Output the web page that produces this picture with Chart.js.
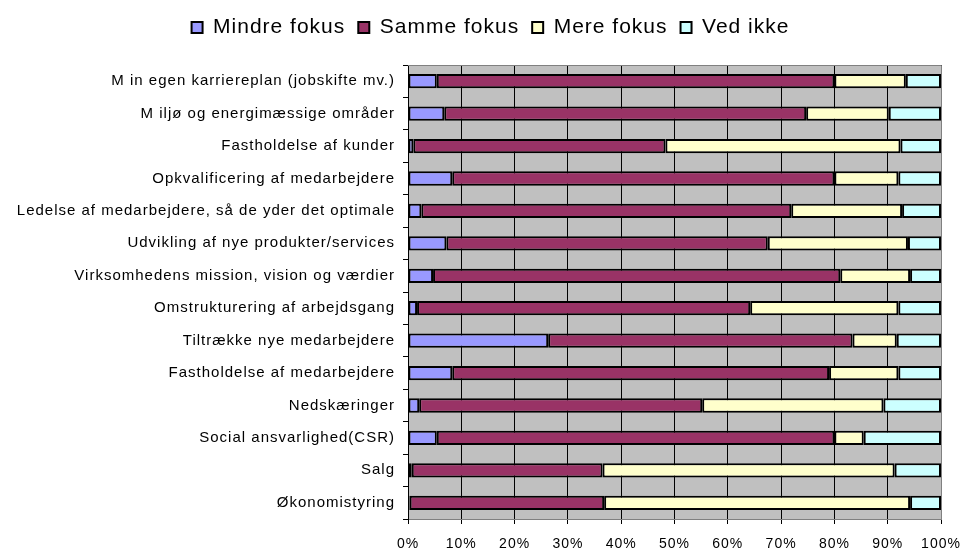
<!DOCTYPE html>
<html>
<head>
<meta charset="utf-8">
<script src="https://cdn.jsdelivr.net/npm/chart.js@4/dist/chart.umd.min.js"></script>
<style>
  html, body { margin: 0; padding: 0; background: #fff; }
  #wrap { width: 966px; height: 552px; }
</style>
</head>
<body>
<div id="wrap"><canvas id="focus_chart" width="966" height="552"></canvas></div>
<script>
var categories = [
  'M in egen karriereplan (jobskifte mv.)',
  'M iljø og energimæssige områder',
  'Fastholdelse af kunder',
  'Opkvalificering af medarbejdere',
  'Ledelse af medarbejdere, så de yder det optimale',
  'Udvikling af nye produkter/services',
  'Virksomhedens mission, vision og værdier',
  'Omstrukturering af arbejdsgang',
  'Tiltrække nye medarbejdere',
  'Fastholdelse af medarbejdere',
  'Nedskæringer',
  'Social ansvarlighed(CSR)',
  'Salg',
  'Økonomistyring'
];
var mindreFokus = [5.4, 6.8, 1.0, 8.3, 2.5, 7.2, 4.7, 1.7, 26.3, 8.3, 2.1, 5.4, 0.7, 0.3];
var sammeFokus  = [74.6, 67.9, 47.3, 71.7, 69.4, 60.3, 76.4, 62.5, 57.1, 70.7, 53.1, 74.6, 35.8, 36.5];
var mereFokus   = [13.4, 15.5, 44.1, 12.0, 20.8, 26.3, 13.1, 27.8, 8.3, 13.0, 34.0, 5.5, 54.8, 57.4];
var vedIkke     = [6.6, 9.8, 7.6, 8.0, 7.3, 6.2, 5.8, 8.0, 8.3, 8.0, 10.8, 14.5, 8.7, 5.8];
var xTicks = [0, 10, 20, 30, 40, 50, 60, 70, 80, 90, 100];

// the original renderer spaces letters a bit wider
function spaceLetters(chart) {
  chart.ctx.letterSpacing = '1px';
}

var plotBackground = {
  id: 'plotBackground',
  beforeInit: function(chart) {
    var fit = chart.legend.fit;
    chart.legend.fit = function() {
      fit.call(this);
      this.height += 17;
    };
  },
  beforeLayout: spaceLetters,
  afterLayout: function(chart) {
    // legend sits a little right of centre in the original
    chart.legend.left += 20;
    chart.legend.right += 20;
  },
  beforeDraw: function(chart) {
    spaceLetters(chart);
    var a = chart.chartArea, ctx = chart.ctx;
    ctx.save();
    ctx.fillStyle = '#c0c0c0';
    ctx.fillRect(a.left, a.top, a.right - a.left, a.bottom - a.top);
    ctx.restore();
  },
  afterDatasetsDraw: function(chart) {
    var a = chart.chartArea, ctx = chart.ctx;
    ctx.save();
    ctx.strokeStyle = '#808080';
    ctx.lineWidth = 1;
    ctx.beginPath();
    ctx.moveTo(a.left, a.top + 0.5);
    ctx.lineTo(a.right + 0.5, a.top + 0.5);
    ctx.lineTo(a.right + 0.5, a.bottom);
    ctx.stroke();
    ctx.restore();
  }
};

function makeSet(label, data, color) {
  return {
    label: label,
    data: data,
    backgroundColor: color,
    borderColor: '#000',
    borderWidth: 2,
    borderSkipped: false,
    barPercentage: 0.44,
    categoryPercentage: 1.0
  };
}

var ctx = document.getElementById('focus_chart').getContext('2d');
var focusChart = new Chart(ctx, {
  type: 'bar',
  data: {
    labels: categories,
    datasets: [
      makeSet('Mindre fokus', mindreFokus, '#9999ff'),
      makeSet('Samme fokus', sammeFokus, '#993366'),
      makeSet('Mere fokus', mereFokus, '#ffffcc'),
      makeSet('Ved ikke', vedIkke, '#ccffff')
    ]
  },
  plugins: [plotBackground],
  options: {
    indexAxis: 'y',
    responsive: false,
    animation: false,
    layout: { padding: { top: 4, right: 25, bottom: 0, left: 0 } },
    plugins: {
      legend: {
        position: 'top',
        labels: {
          color: '#000',
          font: { family: 'Liberation Sans', size: 21 },
          boxWidth: 11,
          boxHeight: 11,
          padding: 13
        }
      },
      tooltip: { enabled: false }
    },
    scales: {
      x: {
        stacked: true,
        min: 0,
        max: 100,
        afterBuildTicks: function(scale) {
          scale.ticks = xTicks.map(function(v) { return { value: v }; });
        },
        afterFit: function(scale) {
          scale.height = 33;
          scale.paddingLeft = 0;
          scale.paddingRight = 0;
        },
        ticks: {
          color: '#000',
          font: { family: 'Liberation Sans', size: 14 },
          maxRotation: 0,
          padding: 12,
          callback: function(v) { return v + '%'; }
        },
        grid: { color: '#000', lineWidth: 1, tickLength: 5 },
        border: { display: true, color: '#808080' }
      },
      y: {
        stacked: true,
        afterFit: function(scale) { scale.width = 408; },
        ticks: {
          color: '#000',
          font: { family: 'Liberation Sans', size: 15 },
          padding: 8
        },
        grid: { drawOnChartArea: false, color: '#000', tickLength: 5, offset: true },
        border: { display: true, color: '#000' }
      }
    }
  }
});
</script>
</body>
</html>
